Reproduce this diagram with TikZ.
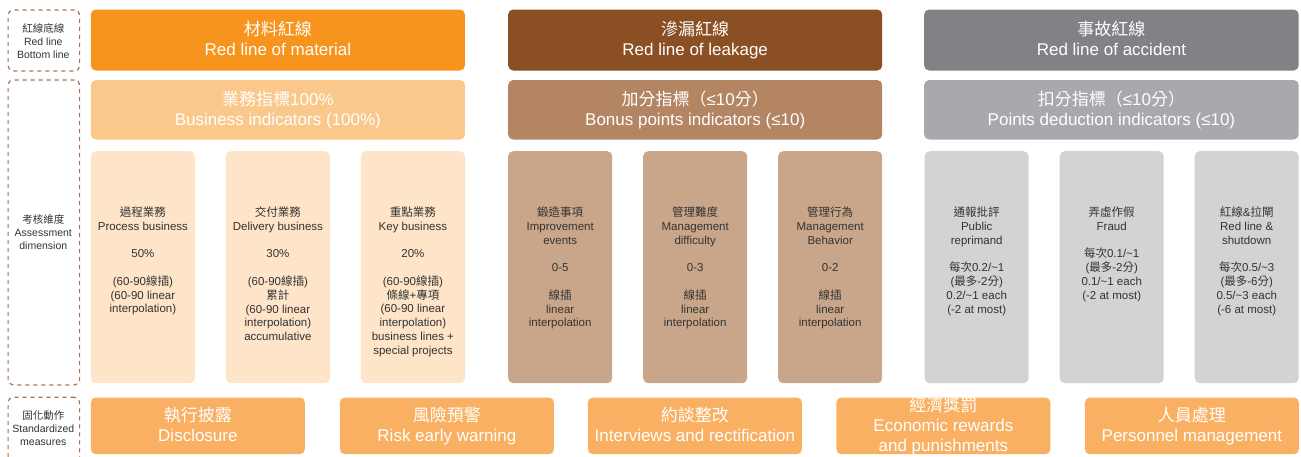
\documentclass[tikz,border=0pt]{standalone}
\usepackage{fontspec}
\setmainfont{Liberation Sans}
\newfontfamily\cjk{Noto Sans CJK TC}
\definecolor{matA}{HTML}{F7941D}
\definecolor{matB}{HTML}{FBC88C}
\definecolor{matC}{HTML}{FEE4C8}
\definecolor{leaA}{HTML}{8B4F24}
\definecolor{leaB}{HTML}{B38563}
\definecolor{leaC}{HTML}{C9A68A}
\definecolor{accA}{HTML}{808285}
\definecolor{accB}{HTML}{A7A9AC}
\definecolor{accC}{HTML}{D1D3D4}
\definecolor{botC}{HTML}{F9B062}
\definecolor{dashC}{HTML}{A8704E}
\definecolor{txtC}{HTML}{333333}
\tikzset{
  box/.style={rounded corners=5pt, inner sep=0pt, anchor=north west},
  hdr/.style={text=white, align=center, font=\fontsize{17}{20}\selectfont, inner sep=0pt, yshift=-1.5pt},
  small/.style={text=txtC, align=center, font=\fontsize{11.5}{13.8}\selectfont, inner sep=0pt, anchor=north},
  side/.style={draw=dashC, line width=1.2pt, dash pattern=on 4pt off 4pt},
  sidetxt/.style={text=txtC, align=center, font=\fontsize{10.5}{13}\selectfont, inner sep=0pt}
}
\newcommand\gp{\\[13.8pt]}
\begin{document}
\begin{tikzpicture}[x=1pt,y=-1pt]
\useasboundingbox (0,0) rectangle (1301,456);
% side dashed boxes
\node[side, box, minimum width=71.5pt, minimum height=61pt] (s1) at (7.5,9.3) {};
\node[side, box, minimum width=71.5pt, minimum height=305pt] (s2) at (7.5,79.3) {};
\node[side, box, minimum width=71.5pt, minimum height=70pt] (s3) at (7.5,396.7) {};
\node[sidetxt] (t1) at (43.3,43) {\strut{\cjk 紅線底線}\\Red line\\Bottom line\strut};
\node[sidetxt] (t2) at (43.3,234) {\strut{\cjk 考核維度}\\Assessment\\dimension\strut};
\node[sidetxt] (t3) at (43.3,430) {\strut{\cjk 固化動作}\\Standardized\\measures\strut};
% top row
\node[box, fill=matA, minimum width=374pt, minimum height=61pt] (r1a) at (90.7,9.3) {};
\node[box, fill=leaA, minimum width=374pt, minimum height=61pt] (r1b) at (508,9.3) {};
\node[box, fill=accA, minimum width=374.5pt, minimum height=61pt] (r1c) at (924,9.3) {};
\node[hdr] at (r1a) {\strut{\cjk 材料紅線}\\Red line of material\strut};
\node[hdr] at (r1b) {\strut{\cjk 滲漏紅線}\\Red line of leakage\strut};
\node[hdr] at (r1c) {\strut{\cjk 事故紅線}\\Red line of accident\strut};
% second row
\node[box, fill=matB, minimum width=374pt, minimum height=59.5pt] (r2a) at (90.7,79.8) {};
\node[box, fill=leaB, minimum width=374pt, minimum height=59.5pt] (r2b) at (508,79.8) {};
\node[box, fill=accB, minimum width=374.5pt, minimum height=59.5pt] (r2c) at (924,79.8) {};
\node[hdr] at (r2a) {\strut{\cjk 業務指標}100\%\\Business indicators (100\%)\strut};
\node[hdr] at (r2b) {\strut{\cjk 加分指標（}≤10{\cjk 分）}\\Bonus points indicators (≤10)\strut};
\node[hdr] at (r2c) {\strut{\cjk 扣分指標（}≤10{\cjk 分）}\\Points deduction indicators (≤10)\strut};
% third row
\foreach \nm/\xx/\cc in {a1/90.7/matC, a2/225.7/matC, a3/360.7/matC,
                         b1/508/leaC, b2/643/leaC, b3/778/leaC,
                         c1/924.5/accC, c2/1059.5/accC, c3/1194.5/accC}{
  \node[box, fill=\cc, minimum width=104pt, minimum height=232pt] (\nm) at (\xx,151) {};
}
\node[small] at ([yshift=-55.5pt]a1.north) {{\cjk 過程業務}\\Process business\gp 50\%\gp ({60-90}{\cjk 線插})\\(60-90 linear\\interpolation)};
\node[small] at ([yshift=-55.5pt]a2.north) {{\cjk 交付業務}\\Delivery business\gp 30\%\gp ({60-90}{\cjk 線插})\\{\cjk 累計}\\(60-90 linear\\interpolation)\\accumulative};
\node[small] at ([yshift=-55.5pt]a3.north) {{\cjk 重點業務}\\Key business\gp 20\%\gp ({60-90}{\cjk 線插})\\{\cjk 條線}+{\cjk 專項}\\(60-90 linear\\interpolation)\\business lines +\\special projects};
\node[small] at ([yshift=-55.5pt]b1.north) {{\cjk 鍛造事項}\\Improvement\\events\gp 0-5\gp {\cjk 線插}\\linear\\interpolation};
\node[small] at ([yshift=-55.5pt]b2.north) {{\cjk 管理難度}\\Management\\difficulty\gp 0-3\gp {\cjk 線插}\\linear\\interpolation};
\node[small] at ([yshift=-55.5pt]b3.north) {{\cjk 管理行為}\\Management\\Behavior\gp 0-2\gp {\cjk 線插}\\linear\\interpolation};
\node[small] at ([yshift=-55.5pt]c1.north) {{\cjk 通報批評}\\Public\\reprimand\gp {\cjk 每次}0.2/\textasciitilde 1\\({\cjk 最多}-2{\cjk 分})\\0.2/\textasciitilde 1 each\\(-2 at most)};
\node[small] at ([yshift=-55.5pt]c2.north) {{\cjk 弄虛作假}\\Fraud\gp {\cjk 每次}0.1/\textasciitilde 1\\({\cjk 最多}-2{\cjk 分})\\0.1/\textasciitilde 1 each\\(-2 at most)};
\node[small] at ([yshift=-55.5pt]c3.north) {{\cjk 紅線}\&{\cjk 拉閘}\\Red line \&\\shutdown\gp {\cjk 每次}0.5/\textasciitilde 3\\({\cjk 最多}-6{\cjk 分})\\0.5/\textasciitilde 3 each\\(-6 at most)};
% bottom row
\foreach \nm/\xx in {d1/90.7, d2/339.7, d3/587.7, d4/836.2, d5/1084.7}{
  \node[box, fill=botC, minimum width=214pt, minimum height=56.7pt] (\nm) at (\xx,397.3) {};
}
\node[hdr] at (d1) {\strut{\cjk 執行披露}\\Disclosure\strut};
\node[hdr] at (d2) {\strut{\cjk 風險預警}\\Risk early warning\strut};
\node[hdr] at (d3) {\strut{\cjk 約談整改}\\Interviews and rectification\strut};
\node[hdr] at ([yshift=0.5pt]d4) {\strut{\cjk 經濟獎罰}\\Economic rewards\\and punishments\strut};
\node[hdr] at (d5) {\strut{\cjk 人員處理}\\Personnel management\strut};
\end{tikzpicture}
\end{document}
